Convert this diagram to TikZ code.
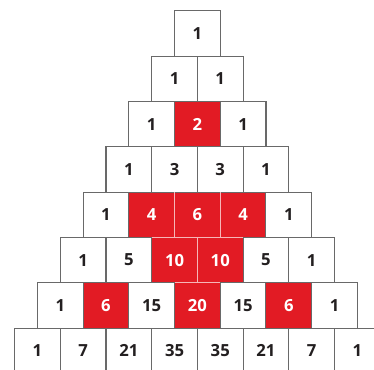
\documentclass[tikz,border=0pt]{standalone}
\usepackage{fontspec}
\setmainfont{Open Sans}
\usepackage{tikz}

\definecolor{pascalred}{RGB}{226,27,36}
\definecolor{edgegray}{RGB}{105,105,105}
\definecolor{seampink}{RGB}{246,182,184}
\definecolor{digit}{RGB}{35,31,32}

\begin{document}
\begin{tikzpicture}[x=0.75pt, y=-0.75pt,
  cell/.style={minimum width=34.3pt, minimum height=34pt, inner sep=0pt, outer sep=0pt,
    line width=0.8pt, font=\fontsize{12.5}{14}\selectfont\bfseries},
  plain/.style={cell, draw=edgegray, fill=white, text=digit},
  hot/.style={cell, draw=edgegray, fill=pascalred, text=white},
  seam/.style={draw=seampink, line width=0.8pt}]

\useasboundingbox (0,0) rectangle (374,370);
\clip (0,0) rectangle (374,370);

% righe del triangolo: valore/stile
\foreach \r/\vals in {0/{1/plain},
    1/{1/plain,1/plain},
    2/{1/plain,2/hot,1/plain},
    3/{1/plain,3/plain,3/plain,1/plain},
    4/{1/plain,4/hot,6/hot,4/hot,1/plain},
    5/{1/plain,5/plain,10/hot,10/hot,5/plain,1/plain},
    6/{1/plain,6/hot,15/plain,20/hot,15/plain,6/hot,1/plain},
    7/{1/plain,7/plain,21/plain,35/plain,35/plain,21/plain,7/plain,1/plain}}{
  \foreach \v/\s [count=\k from 0] in \vals
    \node[\s] (c\r-\k) at ({197.4+(\k-\r/2)*45.7}, {33.6+\r*45.3}) {\v};
}

% bordi chiari tra celle rosse
\draw[seam] (c4-1.north east) -- (c4-1.south east);
\draw[seam] (c4-2.north east) -- (c4-2.south east);
\draw[seam] (c5-2.north east) -- (c5-2.south east);
\draw[seam] (c5-2.north west) -- (c5-3.north east);
\draw[seam] (c6-3.north west) -- (c6-3.north east);

\end{tikzpicture}
\end{document}
